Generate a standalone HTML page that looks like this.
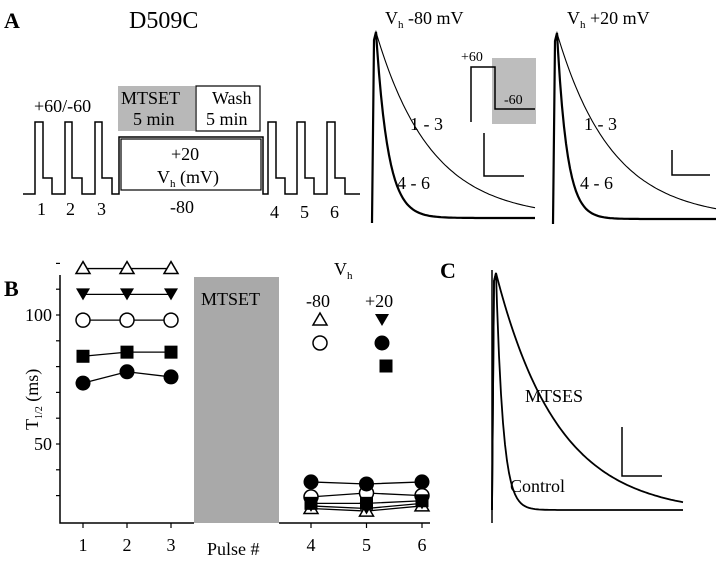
<!DOCTYPE html>
<html><head><meta charset="utf-8"><style>
html,body{margin:0;padding:0;background:#fff}
svg{display:block}
text{font-family:"Liberation Serif",serif;fill:#000}
</style></head><body>
<svg id="fig" width="720" height="564" viewBox="0 0 720 564">
<!-- Panel labels -->
<text x="4" y="28" font-size="22" font-weight="bold">A</text>
<text x="4" y="296" font-size="22" font-weight="bold">B</text>
<text x="440" y="278" font-size="22" font-weight="bold">C</text>
<text x="129" y="28" font-size="24">D509C</text>

<!-- Protocol -->
<g fill="none" stroke="#000" stroke-width="1.5">
<rect x="118" y="86" width="77" height="45" fill="#b8b8b8" stroke="none"/>
<rect x="196" y="86" width="64" height="45" fill="#fff" stroke-width="1.2"/>
<path d="M23,194 H35 V122 H43 V178 H52 V194 H65 V122 H72 V178 H82 V194 H95 V122 H102 V178 H112 V194 H119 V137 H263 V194 H268 V122 H276 V178 H285 V194 H297 V122 H305 V178 H314 V194 H327 V122 H335 V178 H345 V194 H360"/>
<rect x="121" y="139" width="140" height="51" stroke-width="1.2"/>
</g>
<text x="34" y="112" font-size="18">+60/-60</text>
<text x="121" y="104" font-size="18">MTSET</text>
<text x="133" y="125" font-size="18">5 min</text>
<text x="212" y="104" font-size="18">Wash</text>
<text x="206" y="125" font-size="18">5 min</text>
<text x="171" y="160" font-size="18">+20</text>
<text x="157" y="183" font-size="18">V<tspan font-size="11" dy="4">h</tspan><tspan dy="-4"> (mV)</tspan></text>
<text x="170" y="213" font-size="18">-80</text>
<text x="37" y="215" font-size="18">1</text><text x="66" y="215" font-size="18">2</text><text x="97" y="215" font-size="18">3</text>
<text x="270" y="218" font-size="18">4</text><text x="300" y="218" font-size="18">5</text><text x="330" y="218" font-size="18">6</text>

<!-- Panel A traces -->
<text x="385" y="24" font-size="18">V<tspan font-size="11" dy="4">h</tspan><tspan dy="-4"> -80 mV</tspan></text>
<text x="567" y="24" font-size="18">V<tspan font-size="11" dy="4">h</tspan><tspan dy="-4"> +20 mV</tspan></text>
<rect x="492" y="58" width="44" height="66" fill="#bdbdbd"/>
<path d="M471,122 V67 H495 V109 H535" fill="none" stroke="#000" stroke-width="1.5"/>
<text x="461" y="61" font-size="14">+60</text>
<text x="504" y="104" font-size="14">-60</text>
<path d="M484,133 V176 H524" fill="none" stroke="#000" stroke-width="1.5"/>
<path d="M672,150 V175 H710" fill="none" stroke="#000" stroke-width="1.5"/>
<g id="traces"></g>
<text x="410" y="130" font-size="18">1 - 3</text>
<text x="397" y="189" font-size="18">4 - 6</text>
<text x="584" y="130" font-size="18">1 - 3</text>
<text x="580" y="189" font-size="18">4 - 6</text>

<!-- Panel C -->
<path d="M622,427 V476 H662" fill="none" stroke="#000" stroke-width="1.5"/>
<text x="525" y="402" font-size="18">MTSES</text>
<text x="510" y="492" font-size="18">Control</text>

<!-- Panel B -->
<rect x="194" y="277" width="85" height="246" fill="#a9a9a9"/>
<text x="201" y="305" font-size="18">MTSET</text>
<g id="chartB"></g>
<text x="334" y="275" font-size="18">V<tspan font-size="11" dy="4">h</tspan></text>
<text x="306" y="307" font-size="18">-80</text>
<text x="365" y="307" font-size="18">+20</text>
<text x="207" y="555" font-size="18">Pulse #</text>
<text transform="translate(38,430) rotate(-90)" font-size="18">T<tspan font-size="10" dy="4">1/2</tspan><tspan dy="-4"> (ms)</tspan></text>
</svg>
<script>
// Panel B data
const pulses = [1,2,3,4,5,6];
const triOpen   = [118,118,118, 25,24,26];
const triDown   = [108,108,108, 26,25,27];
const circOpen  = [98,98,98, 29.5,31,30];
const square    = [84,85.6,85.6, 27,27,28];
const circFill  = [73.6,78,76, 35.3,34.5,35.3];
const yTicks = [50,100];
const legend = [["triOpen",320,320],["circOpen",320,343],["triDown",382,320],["circFill",382,343],["square",386,366]];
// Trace time constants (A and C)
const tracesA = [{x0:372,base:218,peak:32,tauSlow:55,tauFast:12},{x0:553,base:219,peak:33,tauSlow:55,tauFast:10}];
const tracesC = {x0:492,base:510,peak:273,tauSlow:62,tauFast:7};

const NS="http://www.w3.org/2000/svg";
function el(tag,attrs,parent){const e=document.createElementNS(NS,tag);for(const k in attrs)e.setAttribute(k,attrs[k]);parent.appendChild(e);return e;}
const xPos = p => p<=3 ? 83+(p-1)*44 : 311+(p-4)*55.5;
const yPos = v => 315-(v-100)*2.58;

const g=document.getElementById('chartB');
let ax=el('path',{d:'M60,275 V523 H194 M279,523 H430',fill:'none',stroke:'#000','stroke-width':1.5},g);


for(let v=30;v<=120;v+=10){const t=el('line',{x1:56,x2:60,y1:yPos(v),y2:yPos(v),stroke:'#000','stroke-width':1.2},g);

}
yTicks.forEach(v=>{const t=el('text',{x:52,y:yPos(v)+6,'font-size':18,'text-anchor':'end'},g);t.textContent=v;

});
pulses.forEach(p=>{el('line',{x1:xPos(p),x2:xPos(p),y1:523,y2:528,stroke:'#000','stroke-width':1.2},g);
const t=el('text',{x:xPos(p),y:551,'font-size':18,'text-anchor':'middle'},g);t.textContent=p;

});
function marker(type,x,y,parent){
 let m;
 if(type==='triOpen')m=el('path',{d:`M${x},${y-7} L${x+7},${y+5} L${x-7},${y+5} Z`,fill:'#fff',stroke:'#000','stroke-width':1.5},parent);
 if(type==='triDown')m=el('path',{d:`M${x-7},${y-6} L${x+7},${y-6} L${x},${y+6} Z`,fill:'#000'},parent);
 if(type==='circOpen')m=el('circle',{cx:x,cy:y,r:7,fill:'#fff',stroke:'#000','stroke-width':1.5},parent);
 if(type==='circFill')m=el('circle',{cx:x,cy:y,r:7.5,fill:'#000'},parent);
 if(type==='square')m=el('rect',{x:x-6.5,y:y-6.5,width:13,height:13,fill:'#000'},parent);
 return m;
}
const series={triOpen,triDown,circOpen,square,circFill};
Object.keys(series).forEach(k=>{
 const vals=series[k];
 [[0,3],[3,6]].forEach(([a,b])=>{
  const pts=[];for(let i=a;i<b;i++)pts.push(xPos(pulses[i])+','+yPos(vals[i]));
  const l=el('polyline',{points:pts.join(' '),fill:'none',stroke:'#000','stroke-width':1.3},g);
  
  
 });
});
Object.keys(series).forEach(k=>{
 series[k].forEach((v,i)=>{const m=marker(k,xPos(pulses[i]),yPos(v),g);
  
  });
});
legend.forEach(([k,x,y])=>{const m=marker(k,x,y,g);
 
 });

// Traces
const tg=document.getElementById('traces');
const svg=document.getElementById('fig');
function trace(t,tau,end,sw,parent,name,spikeLow){
 const amp=t.base-t.peak;let d=`M${t.x0},${spikeLow} L${t.x0+2},${t.peak+8} L${t.x0+4},${t.peak}`;
 for(let x=t.x0+5;x<=end;x+=2){d+=` L${x},${(t.base-amp*Math.exp(-(x-t.x0-4)/tau)).toFixed(1)}`;}
 const p=el('path',{d,fill:'none',stroke:'#000','stroke-width':sw},parent);
 
 
}
tracesA.forEach((t,i)=>{
 trace(t,t.tauSlow,t.x0+163,1.1,tg,'trace-1-3-'+i,t.base-8);
 trace(t,t.tauFast,t.x0+163,2.2,tg,'trace-4-6-'+i,t.base+5);
});
el('line',{x1:492,y1:270,x2:492,y2:523,stroke:'#000','stroke-width':1.5},svg);
trace({...tracesC,base:514},tracesC.tauSlow,683,1.8,svg,'trace-mtses',510);
trace(tracesC,tracesC.tauFast,683,1.8,svg,'trace-control',510);
</script>
</body></html>
